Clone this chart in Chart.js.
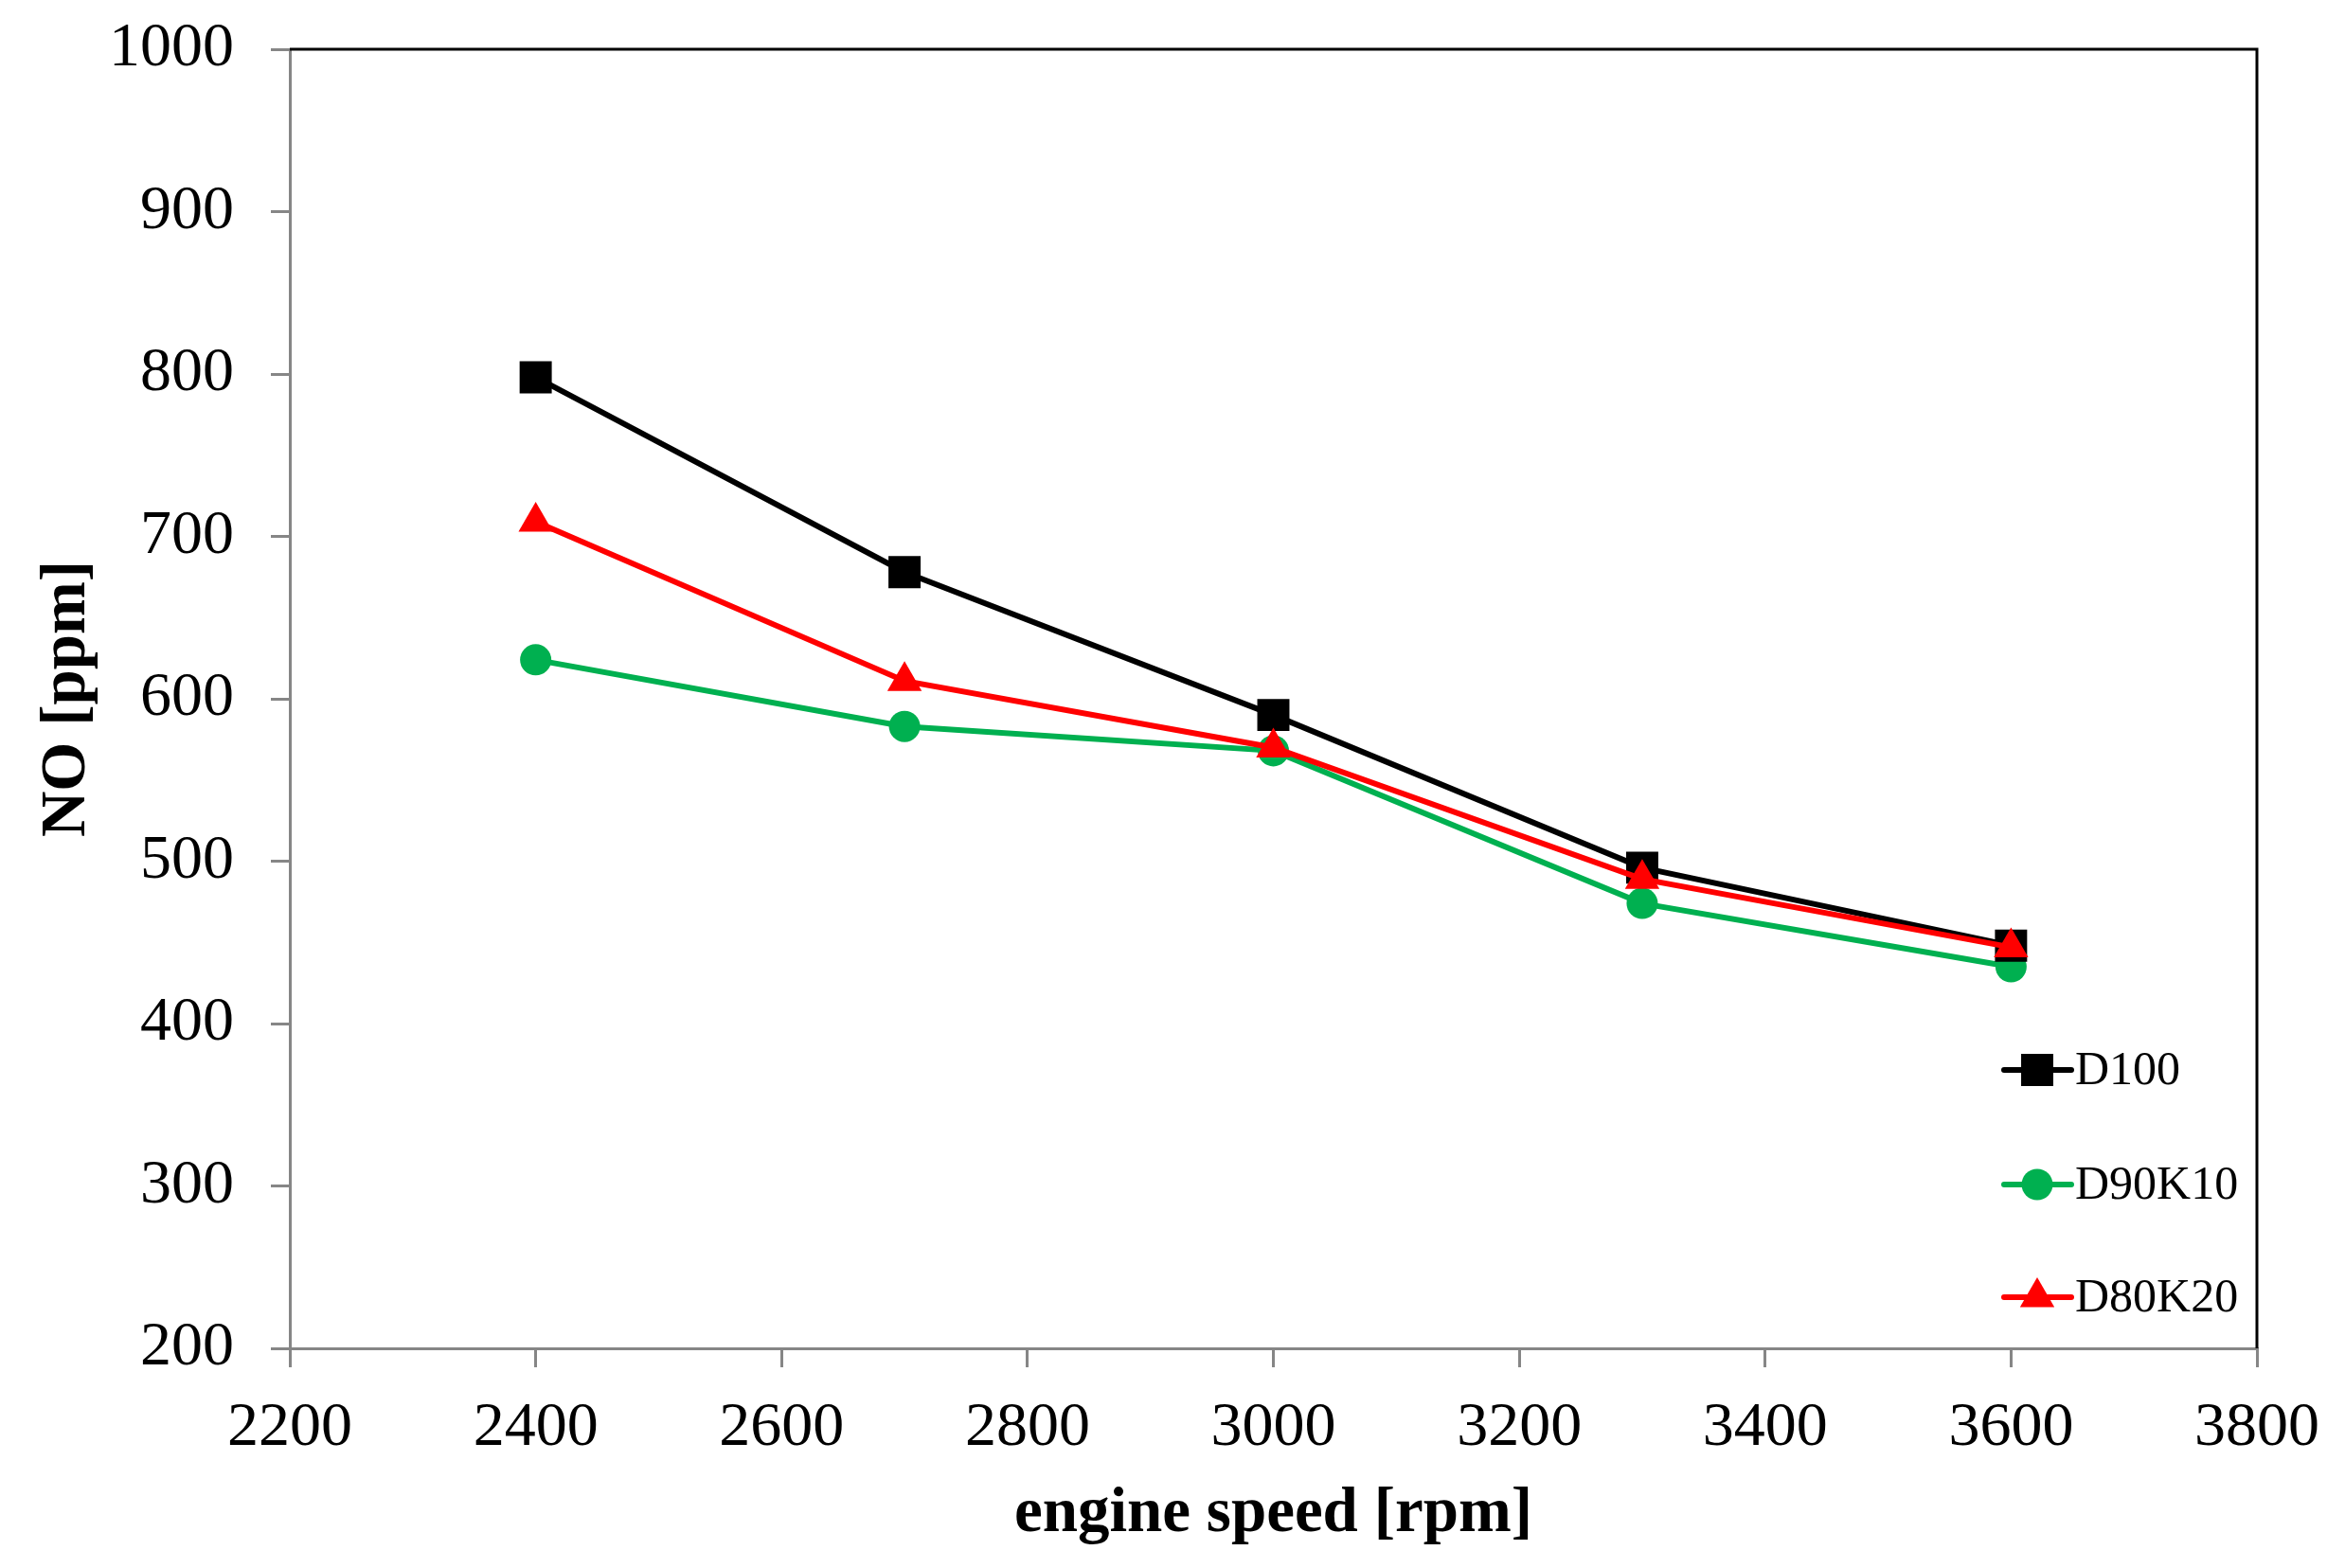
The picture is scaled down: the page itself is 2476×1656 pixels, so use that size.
<!DOCTYPE html>
<html>
<head>
<meta charset="utf-8">
<script src="https://cdn.jsdelivr.net/npm/chart.js@4/dist/chart.umd.min.js"></script>
<style>
  html, body { margin: 0; padding: 0; background: #ffffff; }
  canvas { display: block; }
</style>
</head>
<body>
<canvas id="noChart" width="2476" height="1656"></canvas>
<script>
// engine speeds [rpm]
var engineSpeed = [2400, 2700, 3000, 3300, 3600];

// NO [ppm] per fuel
var noD100   = [798, 678, 590, 496, 448];
var noD90K10 = [624, 583, 568, 474, 435];
var noD80K20 = [709, 611, 570, 489, 447];

var seriesNames = ['D100', 'D90K10', 'D80K20'];

// axis ranges / tick steps
var xMin = 2200, xMax = 3800, xStep = 200;
var yMin = 200, yMax = 1000, yStep = 100;

var axisGrey = '#868686';
var serif = "'Liberation Serif', 'Times New Roman', serif";

function toPoints(ys) {
    return engineSpeed.map(function (x, i) { return { x: x, y: ys[i] }; });
}

function drawMarker(ctx, style, x, y, r, color) {
    ctx.save();
    ctx.fillStyle = color;
    ctx.beginPath();
    if (style === 'rect') {
        var s = Math.SQRT1_2 * r;
        ctx.rect(x - s, y - s, 2 * s, 2 * s);
    } else if (style === 'circle') {
        ctx.arc(x, y, r, 0, Math.PI * 2);
    } else if (style === 'triangle') {
        ctx.moveTo(x, y - r);
        ctx.lineTo(x + r * 0.866, y + r * 0.5);
        ctx.lineTo(x - r * 0.866, y + r * 0.5);
        ctx.closePath();
    }
    ctx.fill();
    ctx.restore();
}

// black frame on top + right, and the legend inside the plot
var frameAndLegend = {
    id: 'frameAndLegend',
    afterDraw: function (chart) {
        var ctx = chart.ctx,
            a = chart.chartArea;

        ctx.save();
        ctx.strokeStyle = '#000000';
        ctx.lineWidth = 3;
        ctx.beginPath();
        ctx.moveTo(a.left, a.top);
        ctx.lineTo(a.right, a.top);
        ctx.lineTo(a.right, a.bottom);
        ctx.stroke();
        ctx.restore();

        var rows = [a.bottom - 294, a.bottom - 173, a.bottom - 54];
        var lx0 = a.right - 267, lx1 = a.right - 196, mx = a.right - 232, tx = a.right - 192;

        chart.data.datasets.forEach(function (ds, i) {
            var y = rows[i];
            ctx.save();
            ctx.strokeStyle = ds.borderColor;
            ctx.lineWidth = ds.borderWidth;
            ctx.lineCap = 'round';
            ctx.beginPath();
            ctx.moveTo(lx0, y);
            ctx.lineTo(lx1, y);
            ctx.stroke();
            ctx.restore();

            drawMarker(ctx, ds.pointStyle, mx, y, ds.pointRadius, ds.pointBackgroundColor);

            ctx.save();
            ctx.fillStyle = '#000000';
            ctx.font = '50px ' + serif;
            ctx.textBaseline = 'middle';
            ctx.textAlign = 'left';
            ctx.fillText(ds.label, tx, y + 2);
            ctx.restore();
        });
    }
};

new Chart(document.getElementById('noChart').getContext('2d'), {
    type: 'line',
    data: {
        datasets: [{
            label: seriesNames[0],
            data: toPoints(noD100),
            borderColor: '#000000',
            backgroundColor: '#000000',
            pointBackgroundColor: '#000000',
            pointBorderWidth: 0,
            pointStyle: 'rect',
            pointRadius: 24,
            borderWidth: 6,
            order: 2
        }, {
            label: seriesNames[1],
            data: toPoints(noD90K10),
            borderColor: '#00B050',
            backgroundColor: '#00B050',
            pointBackgroundColor: '#00B050',
            pointBorderWidth: 0,
            pointStyle: 'circle',
            pointRadius: 16.5,
            borderWidth: 6,
            order: 3
        }, {
            label: seriesNames[2],
            data: toPoints(noD80K20),
            borderColor: '#FF0000',
            backgroundColor: '#FF0000',
            pointBackgroundColor: '#FF0000',
            pointBorderWidth: 0,
            pointStyle: 'triangle',
            pointRadius: 21,
            borderWidth: 6,
            order: 1
        }]
    },
    options: {
        responsive: false,
        devicePixelRatio: 1,
        animation: false,
        layout: {
            padding: { top: 52, right: 93, bottom: 0, left: 0 }
        },
        plugins: {
            legend: { display: false },
            tooltip: { enabled: false }
        },
        scales: {
            x: {
                type: 'linear',
                min: xMin,
                max: xMax,
                afterFit: function (scale) {
                    scale.height = 232;
                    scale.paddingLeft = 0;
                    scale.paddingRight = 0;
                },
                ticks: {
                    stepSize: xStep,
                    color: '#000000',
                    padding: 25,
                    maxRotation: 0,
                    callback: function (v) { return String(v); },
                    font: { family: serif, size: 66 }
                },
                grid: {
                    drawOnChartArea: false,
                    drawTicks: true,
                    tickLength: 20,
                    color: axisGrey,
                    lineWidth: 3
                },
                border: { color: axisGrey, width: 3 },
                title: {
                    display: true,
                    text: 'engine speed [rpm]',
                    color: '#000000',
                    padding: { top: 0, bottom: 16 },
                    font: { family: serif, size: 67, weight: 'bold' }
                }
            },
            y: {
                type: 'linear',
                min: yMin,
                max: yMax,
                afterFit: function (scale) {
                    scale.width = 306;
                    scale.paddingTop = 0;
                    scale.paddingBottom = 0;
                },
                ticks: {
                    stepSize: yStep,
                    color: '#000000',
                    padding: 39,
                    callback: function (v) { return String(v); },
                    font: { family: serif, size: 66 }
                },
                grid: {
                    drawOnChartArea: false,
                    drawTicks: true,
                    tickLength: 20,
                    color: axisGrey,
                    lineWidth: 3
                },
                border: { color: axisGrey, width: 3 },
                title: {
                    display: true,
                    text: 'NO [ppm]',
                    color: '#000000',
                    padding: { top: 31, bottom: 0 },
                    font: { family: serif, size: 67, weight: 'bold' }
                }
            }
        }
    },
    plugins: [frameAndLegend]
});
</script>
</body>
</html>
